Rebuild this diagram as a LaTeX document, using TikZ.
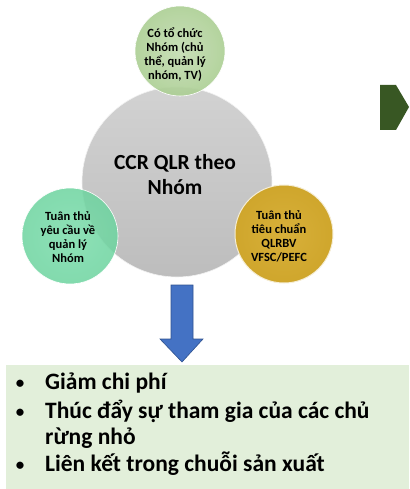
\documentclass[tikz,border=0pt]{standalone}
\usepackage{fontspec}
\setmainfont{Carlito}
\definecolor{bigGray}{HTML}{BDBDBD}
\definecolor{bigGrayTop}{HTML}{D2D2D2}
\definecolor{sage}{HTML}{ABCE93}
\definecolor{sageIn}{HTML}{C3DCB1}
\definecolor{mint}{HTML}{6CD49F}
\definecolor{mintIn}{HTML}{7ADBAA}
\definecolor{gold}{HTML}{CFA62C}
\definecolor{goldIn}{HTML}{D8B03A}
\definecolor{arrowBlue}{HTML}{4472C4}
\definecolor{arrowEdge}{HTML}{2F528F}
\definecolor{darkGreen}{HTML}{385723}
\definecolor{boxGreen}{HTML}{E2EFDA}
\tikzset{
  bubble/.style={circle, inner sep=0pt, draw=white, line width=0.6pt},
  smalltxt/.style={font=\bfseries\fontsize{12.5}{14}\selectfont, align=center, text=black},
  bigtxt/.style={font=\bfseries\fontsize{21.5}{25}\selectfont, align=center, text=black},
  itemtxt/.style={font=\bfseries\fontsize{23.5}{27}\selectfont, anchor=base west, inner sep=0pt, text=black},
  bullettxt/.style={font=\bfseries\fontsize{17}{20}\selectfont, anchor=base, inner sep=0pt, text=black},
}
\begin{document}
\begin{tikzpicture}[x=1pt,y=-1pt]
\useasboundingbox (0,0) rectangle (409,489);
% big circle
\node[bubble, minimum size=190pt, top color=bigGrayTop, bottom color=bigGray, draw=white!90!gray] (core) at (177,182) {};
\node[bigtxt] (coretxt) at (175,175) {CCR QLR theo\\Nhóm};
% top circle
\node[bubble, minimum size=90pt, inner color=sageIn, outer color=sage, fill opacity=0.9] (top) at (180,51) {};
\node[smalltxt] (toptxt) at (175,55) {Có tổ chức\\Nhóm (chủ\\thể, quản lý\\nhóm, TV)};
% left circle
\node[bubble, minimum size=96pt, inner color=mintIn, outer color=mint, fill opacity=0.85] (left) at (70,236) {};
\node[smalltxt] (lefttxt) at (68,237) {Tuân thủ\\yêu cầu về\\quản lý\\Nhóm};
% right circle
\node[bubble, minimum size=98pt, inner color=goldIn, outer color=gold, draw=white!80!gold, line width=1pt] (right) at (284,234) {};
\node[smalltxt] (righttxt) at (279,236) {Tuân thủ\\tiêu chuẩn\\QLRBV\\VFSC/PEFC};
% dark green pentagon
\fill[darkGreen] (380,85) -- (396,85) -- (409,107) -- (396,130) -- (380,130) -- cycle;
% result box
\node[draw=none, fill=boxGreen, minimum width=403pt, minimum height=124pt, anchor=north west, inner sep=0pt] (result) at (6,365) {};
% blue arrow
\filldraw[fill=arrowBlue, draw=arrowEdge, line width=0.6pt] (171,285) -- (193,285) -- (193,339) -- (203,339) -- (182,362) -- (160,339) -- (171,339) -- cycle;
% items
\node[bullettxt] (b1) at (20,388) {•};
\node[itemtxt] (t1) at (45,389) {Giảm chi phí};
\node[bullettxt] (b2) at (20,417) {•};
\node[itemtxt] (t2) at (45,418) {Thúc đẩy sự tham gia của các chủ};
\node[itemtxt] (t3) at (45,444) {rừng nhỏ};
\node[bullettxt] (b3) at (20,470) {•};
\node[itemtxt] (t4) at (45,471) {Liên kết trong chuỗi sản xuất};
\end{tikzpicture}
\end{document}
